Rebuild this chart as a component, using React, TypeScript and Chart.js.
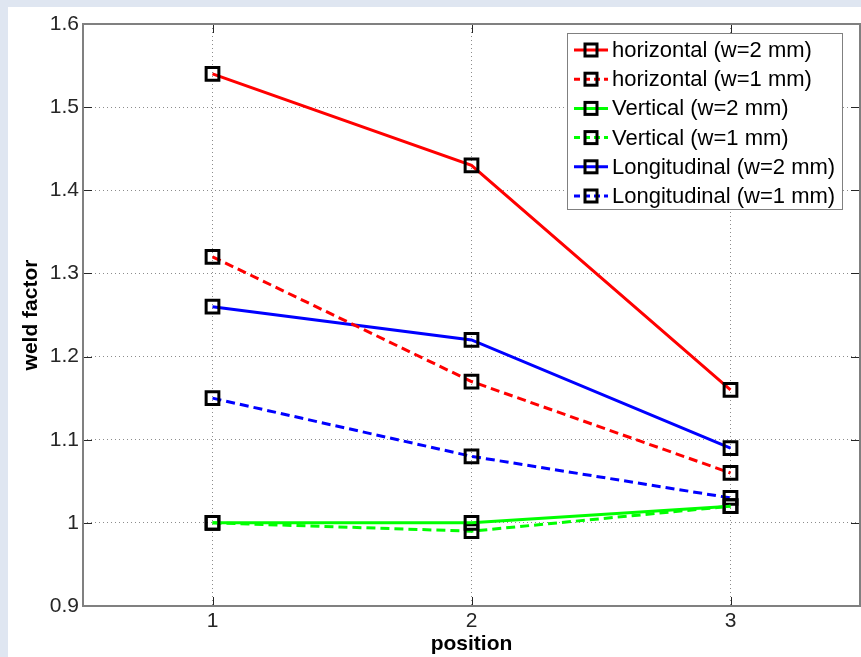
import React, { useEffect, useRef } from "react";
import { Chart, registerables } from "chart.js";

Chart.register(...registerables);

const positions = [1, 2, 3];
const horizontal2 = [1.54, 1.43, 1.16];
const horizontal1 = [1.32, 1.17, 1.06];
const vertical2 = [1.0, 1.0, 1.02];
const vertical1 = [1.0, 0.99, 1.02];
const longitudinal2 = [1.26, 1.22, 1.09];
const longitudinal1 = [1.15, 1.08, 1.03];
const seriesLabels = [
  "horizontal (w=2 mm)",
  "horizontal (w=1 mm)",
  "Vertical (w=2 mm)",
  "Vertical (w=1 mm)",
  "Longitudinal (w=2 mm)",
  "Longitudinal (w=1 mm)",
];
const yTickValues = [0.9, 1.0, 1.1, 1.2, 1.3, 1.4, 1.5, 1.6];
const xTickValues = [1, 2, 3];

const FONT = "'Liberation Sans', Arial, Helvetica, sans-serif";
const DASH = [9, 5];

function mk(label: string, values: number[], color: string, dashed: boolean) {
  return {
    label,
    data: positions.map((p, i) => ({ x: p, y: values[i] })),
    borderColor: color,
    backgroundColor: color,
    borderWidth: 3,
    borderDash: dashed ? DASH : [],
    pointStyle: "rect",
    pointRadius: 9,
    pointHoverRadius: 9,
    pointBorderWidth: 3,
    pointBorderColor: "#000",
    pointBackgroundColor: "rgba(0,0,0,0)",
    fill: false,
    tension: 0,
  };
}

const framePlugin = {
  id: "frame",
  afterDraw(chart: any) {
    const { ctx, chartArea } = chart;
    const { left, right, top, bottom } = chartArea;
    const xs = chart.scales.x;
    const ys = chart.scales.y;
    ctx.save();
    ctx.strokeStyle = "#262626";
    ctx.lineWidth = 1;
    ctx.setLineDash([]);
    const tl = 9;
    ctx.beginPath();
    xTickValues.forEach((v) => {
      const px = Math.round(xs.getPixelForValue(v)) + 0.5;
      ctx.moveTo(px, bottom);
      ctx.lineTo(px, bottom - tl);
      ctx.moveTo(px, top);
      ctx.lineTo(px, top + tl);
    });
    yTickValues.forEach((v) => {
      const py = Math.round(ys.getPixelForValue(v)) + 0.5;
      ctx.moveTo(left, py);
      ctx.lineTo(left + tl, py);
      ctx.moveTo(right, py);
      ctx.lineTo(right - tl, py);
    });
    ctx.stroke();
    ctx.strokeStyle = "#808080";
    ctx.lineWidth = 2;
    ctx.strokeRect(left, top, right - left, bottom - top);
    ctx.restore();
  },
};

const legendPlugin = {
  id: "matlabLegend",
  afterDraw(chart: any) {
    const { ctx, chartArea } = chart;
    const boxRight = chartArea.right - 18;
    const boxLeft = boxRight - 275;
    const boxTop = chartArea.top + 9;
    const boxH = 176;
    ctx.save();
    ctx.fillStyle = "#fff";
    ctx.fillRect(boxLeft, boxTop, boxRight - boxLeft, boxH);
    ctx.strokeStyle = "#808080";
    ctx.lineWidth = 1;
    ctx.setLineDash([]);
    ctx.strokeRect(boxLeft + 0.5, boxTop + 0.5, boxRight - boxLeft, boxH);
    ctx.font = `22px ${FONT}`;
    ctx.textBaseline = "middle";
    ctx.textAlign = "left";
    chart.data.datasets.forEach((ds: any, i: number) => {
      const cy = boxTop + 17 + i * 29.2;
      ctx.strokeStyle = ds.borderColor;
      ctx.lineWidth = 3;
      ctx.setLineDash(ds.borderDash && ds.borderDash.length ? [6, 4] : []);
      ctx.beginPath();
      ctx.moveTo(boxLeft + 7, cy);
      ctx.lineTo(boxLeft + 41, cy);
      ctx.stroke();
      ctx.setLineDash([]);
      ctx.strokeStyle = "#000";
      ctx.lineWidth = 3;
      ctx.strokeRect(boxLeft + 24 - 6, cy - 6, 12, 12);
      ctx.fillStyle = "#000";
      ctx.fillText(ds.label, boxLeft + 45, cy + 1);
    });
    ctx.restore();
  },
};

export default function App() {
  const ref = useRef<HTMLCanvasElement | null>(null);
  useEffect(() => {
    document.body.style.background = "#dfe6f1";
    document.body.style.overflow = "hidden";
    const canvas = ref.current!;
    const chart = new Chart(canvas, {
      type: "line",
      data: {
        datasets: [
          mk(seriesLabels[0], horizontal2, "#ff0000", false),
          mk(seriesLabels[1], horizontal1, "#ff0000", true),
          mk(seriesLabels[2], vertical2, "#00ff00", false),
          mk(seriesLabels[3], vertical1, "#00ff00", true),
          mk(seriesLabels[4], longitudinal2, "#0000ff", false),
          mk(seriesLabels[5], longitudinal1, "#0000ff", true),
        ] as any,
      },
      options: {
        animation: false,
        responsive: false,
        maintainAspectRatio: false,
        layout: { autoPadding: false, padding: { left: 0, top: 17, right: 1, bottom: 0 } },
        plugins: {
          legend: { display: false },
          tooltip: { enabled: false },
        },
        scales: {
          x: {
            type: "linear",
            min: 0.5,
            max: 3.5,
            afterBuildTicks: (s: any) => {
              s.ticks = xTickValues.map((v) => ({ value: v }));
            },
            afterFit: (s: any) => {
              s.height = 51;
              s.paddingLeft = 0;
              s.paddingRight = 0;
            },
            ticks: {
              padding: 3,
              color: "#262626",
              font: { family: FONT, size: 21 },
              callback: (v: any) => String(v),
            },
            grid: {
              drawTicks: false,
              color: "#8c8c8c",
              lineWidth: 1,
            },
            border: { display: false, dash: [1, 3] },
            title: {
              display: true,
              text: "position",
              color: "#000",
              font: { family: FONT, size: 21, weight: "bold" },
              padding: { top: 0, bottom: 0 },
            },
          },
          y: {
            type: "linear",
            min: 0.9,
            max: 1.6,
            afterBuildTicks: (s: any) => {
              s.ticks = yTickValues.map((v) => ({ value: v }));
            },
            afterFit: (s: any) => {
              s.width = 75;
              s.paddingTop = 0;
              s.paddingBottom = 0;
            },
            ticks: {
              padding: 4,
              color: "#262626",
              font: { family: FONT, size: 21 },
              callback: (v: any) => String(Math.round(Number(v) * 10) / 10),
            },
            grid: {
              drawTicks: false,
              color: "#8c8c8c",
              lineWidth: 1,
            },
            border: { display: false, dash: [1, 3] },
            title: {
              display: true,
              text: "weld factor",
              color: "#000",
              font: { family: FONT, size: 21, weight: "bold" },
              padding: { top: 11, bottom: 0 },
            },
          },
        },
      } as any,
      plugins: [framePlugin, legendPlugin],
    });
    return () => chart.destroy();
  }, []);
  return (
    <div
      style={{
        position: "fixed",
        left: 8,
        top: 7,
        background: "#fff",
        width: 853,
        height: 650,
      }}
    >
      <canvas ref={ref} width={853} height={650} style={{ display: "block" }} />
    </div>
  );
}
